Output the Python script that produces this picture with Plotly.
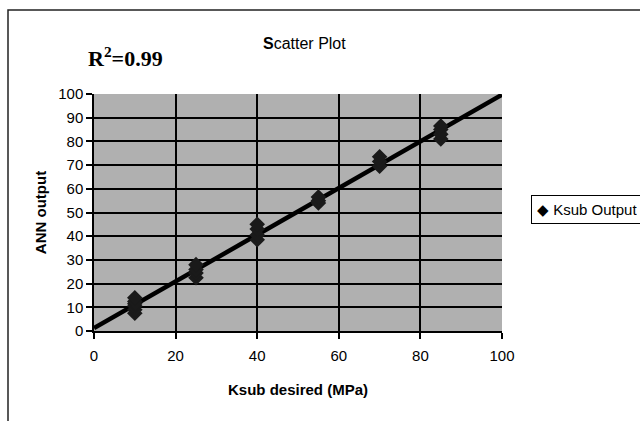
import numpy as np
import plotly.graph_objects as go

# Data
ksub_desired = [10, 10, 10, 10, 10, 10,
                25, 25, 25, 25,
                40, 40, 40, 40,
                55, 55, 55,
                70, 70, 70,
                85, 85, 85, 85]
ann_output = [7.5, 9, 10.5, 11.5, 12.5, 14,
              22.5, 24.5, 26, 28,
              38.5, 40.5, 43, 45,
              54, 55, 56.5,
              69.5, 71.5, 73.5,
              81, 83, 85, 86.5]
x_ticks = [0, 20, 40, 60, 80, 100]
y_ticks = [0, 10, 20, 30, 40, 50, 60, 70, 80, 90, 100]
series_name = "Ksub Output"
r2_text = "<b>R<sup>2</sup>=0.99</b>"

# Linear trendline fitted to the data
slope, intercept = np.polyfit(ksub_desired, ann_output, 1)
trend_x = np.array([0, 100])
trend_y = intercept + slope * trend_x

FONT = "Liberation Sans"

fig = go.Figure()
fig.add_trace(go.Scatter(
    x=trend_x, y=trend_y, mode="lines",
    line=dict(color="black", width=4.5),
    showlegend=False, hoverinfo="skip"))
fig.add_trace(go.Scatter(
    x=ksub_desired, y=ann_output, mode="markers",
    name=series_name, showlegend=False,
    marker=dict(symbol="diamond", size=12, color="#1a1a1a",
                line=dict(width=0))))

L, R, T, B = 94, 138, 94, 90
W, H = 640, 421
pw, ph = W - L - R, H - T - B

def px(x):
    return (x - L) / pw

def py(y):
    return (H - B - y) / ph

# outer chart frame
fig.add_shape(type="rect", xref="paper", yref="paper",
              x0=px(8), x1=px(660), y0=py(10), y1=py(450),
              line=dict(color="#222222", width=1.5), layer="below")

fig.add_annotation(text="<b>S</b>catter Plot", xref="paper", yref="paper",
                   x=px(304), y=py(44), xanchor="center", yanchor="middle",
                   showarrow=False,
                   font=dict(family=FONT, size=16, color="black"))
fig.add_annotation(text=r2_text, xref="paper", yref="paper",
                   x=px(125.5), y=py(57), xanchor="center", yanchor="middle",
                   showarrow=False,
                   font=dict(family="Liberation Serif", size=22, color="black"))

# legend box (Excel-style compact legend)
fig.add_annotation(text="\u25c6 " + series_name, xref="paper", yref="paper",
                   x=px(531), y=py(209), xanchor="left", yanchor="middle",
                   showarrow=False, align="left", width=100,
                   bordercolor="black", borderwidth=1, borderpad=5,
                   bgcolor="white",
                   font=dict(family=FONT, size=15, color="black"))

axis_common = dict(
    showline=True, linecolor="black", linewidth=1.5,
    showgrid=True, gridcolor="black", gridwidth=1.5,
    ticks="outside", ticklen=6, tickcolor="black", tickwidth=1.5,
    zeroline=False,
    tickfont=dict(family=FONT, size=15, color="black"),
)

fig.update_xaxes(range=[0, 100], tickvals=x_ticks, **axis_common,
                 ticklabelstandoff=4,
                 title=dict(text="<b>Ksub desired (MPa)</b>", standoff=22,
                            font=dict(family=FONT, size=15, color="black")))
fig.update_yaxes(range=[0, 100], tickvals=y_ticks, **axis_common,
                 title=dict(text="<b>ANN output</b>", standoff=8,
                            font=dict(family=FONT, size=15, color="black")))

fig.update_layout(
    width=W, height=H,
    margin=dict(l=L, r=R, t=T, b=B, autoexpand=False),
    paper_bgcolor="white",
    plot_bgcolor="#b0b0b0",
    showlegend=False,
)

fig.write_html("out.html", config={"displayModeBar": False},
               post_script="document.body.style.margin='0';document.body.style.overflow='hidden';")
